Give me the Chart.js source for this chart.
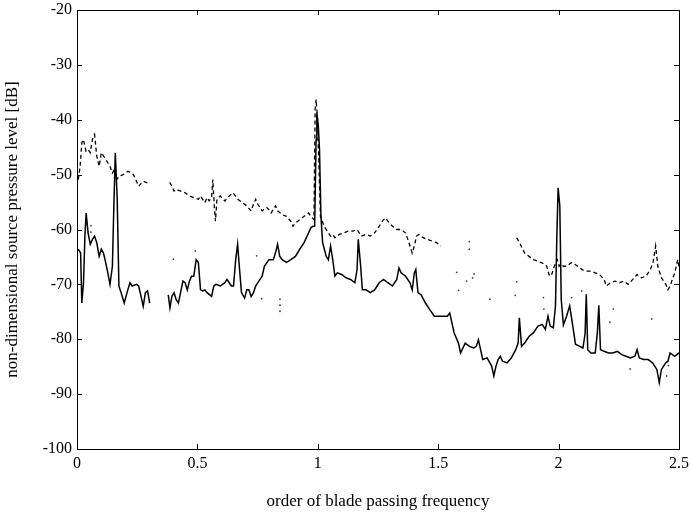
<!DOCTYPE html>
<html>
<head>
<meta charset="utf-8">
<script src="https://cdn.jsdelivr.net/npm/chart.js@4/dist/chart.umd.min.js"></script>
<style>
html,body{margin:0;padding:0;background:#fff;}
#wrap{width:690px;height:512px;position:relative;}
</style>
</head>
<body>
<div id="wrap"><canvas id="c" width="690" height="512"></canvas></div>
<script>
// ---- data (order of BPF, level in dB); null = gap in the trace ----
const solidFreq = [0.005,0.015,0.020,0.027,0.033,0.038,0.046,0.055,0.064,0.073,0.082,0.092,0.101,0.110,0.119,0.128,0.137,0.147,0.152,0.159,0.167,0.174,0.183,0.196,0.211,0.220,0.229,0.247,0.256,0.266,0.275,0.284,0.293,0.302,0.34,
0.379,0.386,0.394,0.403,0.412,0.421,0.430,0.440,0.449,0.458,0.467,0.476,0.485,0.495,0.504,0.513,0.522,0.531,0.540,0.559,0.568,0.577,0.595,0.614,0.623,0.632,0.641,0.650,0.659,0.667,0.674,0.683,0.696,0.705,0.714,0.723,0.733,0.742,0.760,0.769,0.778,0.797,0.815,0.824,0.833,0.842,0.852,0.870,0.888,0.907,0.925,0.943,0.962,0.971,0.980,0.987,0.993,0.996,1.002,1.007,1.013,1.020,1.035,1.044,1.053,1.062,1.071,1.081,1.099,1.117,1.136,1.154,1.163,1.168,1.178,1.185,1.200,1.218,1.236,1.255,1.273,1.291,1.310,1.328,1.337,1.346,1.364,1.383,1.392,1.401,1.407,1.416,1.429,1.447,1.465,1.484,1.502,1.520,1.538,1.548,1.566,1.584,1.593,1.612,1.630,1.648,1.658,1.667,1.676,1.685,1.703,1.722,1.731,1.740,1.749,1.758,1.767,1.786,1.804,1.822,1.832,1.837,1.846,1.859,1.877,1.896,1.914,1.932,1.945,1.956,1.965,1.978,1.987,1.993,1.998,2.005,2.011,2.020,2.033,2.046,2.057,2.070,2.088,2.101,2.110,2.115,2.121,2.134,2.152,2.161,2.167,2.174,2.189,2.207,2.225,2.244,2.262,2.280,2.298,2.317,2.326,2.335,2.353,2.372,2.390,2.408,2.418,2.427,2.445,2.454,2.463,2.482,2.500];
const solidLevel = [-63.6,-64.3,-73.4,-69.7,-61,-57,-60.6,-62.7,-61.8,-61.2,-62.4,-64.9,-63.6,-64.3,-66,-67.9,-70,-66.7,-57.6,-46,-54.5,-70.3,-71.5,-73.4,-71,-69.7,-70.3,-70,-70.3,-72.2,-74,-71.5,-71.2,-73.4,null,
-71.9,-74.3,-72.2,-71.5,-72.8,-73.4,-71.5,-69.4,-69.7,-71,-69.4,-68.5,-68.5,-65.5,-66,-71,-71.2,-71,-71.5,-72.2,-70.3,-70,-70.3,-69.7,-69.1,-69.7,-70.3,-70.3,-65.5,-62.7,-66.7,-71.5,-72.5,-71,-71,-72.2,-71.5,-70.3,-69.1,-68.5,-66.7,-65.5,-65.5,-64.3,-62.7,-64.9,-65.5,-66,-65.5,-64.9,-63.6,-62.4,-60.6,-59.7,-59.4,-59.4,-43.6,-38.7,-41,-45.4,-57.6,-62.4,-64.9,-65.5,-63,-65.5,-68.5,-67.9,-68.2,-68.8,-69.1,-69.7,-67.3,-61.8,-66.7,-71,-71,-71.5,-71,-69.7,-69.1,-69.7,-70.3,-69.1,-67,-67.9,-68.5,-69.7,-71,-67.9,-67.3,-71.5,-71.9,-73.4,-74.6,-75.8,-75.8,-75.8,-75.8,-75.2,-78.8,-80.7,-82.5,-80.7,-81.3,-81.6,-81.3,-80.1,-81.9,-83.7,-83.4,-84.9,-86.7,-84.9,-83.7,-83.1,-84,-84.3,-83.4,-81.9,-80.7,-76.1,-81.3,-80.7,-79.5,-78.8,-77.6,-77.3,-78.2,-75.8,-77.6,-77.9,-74,-60.6,-52.4,-55.7,-72.8,-77.4,-75.8,-73.9,-77,-80.9,-81.3,-81.6,-79,-71.8,-81.9,-82.5,-82.5,-78.8,-73.8,-81.9,-82.2,-82.5,-82.5,-82.2,-82.8,-83.1,-83.4,-83.1,-81.9,-83.4,-83.7,-83.7,-84.3,-85.5,-87.9,-85.5,-84.3,-84,-82.5,-83.1,-82.5];

const dashFreq = [0.005,0.013,0.020,0.027,0.037,0.046,0.055,0.064,0.073,0.082,0.092,0.101,0.110,0.119,0.137,0.147,0.156,0.165,0.174,0.192,0.211,0.229,0.238,0.256,0.275,0.293,0.302,0.34,
0.385,0.394,0.403,0.412,0.430,0.449,0.467,0.485,0.504,0.513,0.522,0.531,0.540,0.549,0.559,0.564,0.570,0.575,0.581,0.595,0.614,0.632,0.647,0.659,0.668,0.687,0.705,0.723,0.733,0.742,0.751,0.760,0.769,0.788,0.797,0.806,0.824,0.833,0.852,0.870,0.888,0.897,0.907,0.925,0.943,0.962,0.971,0.984,0.989,0.993,0.998,1.004,1.011,1.026,1.035,1.044,1.053,1.062,1.071,1.090,1.108,1.126,1.145,1.163,1.172,1.181,1.200,1.218,1.236,1.255,1.273,1.282,1.291,1.310,1.328,1.346,1.364,1.374,1.383,1.392,1.401,1.410,1.419,1.438,1.456,1.474,1.493,1.511,1.6,
1.826,1.841,1.859,1.877,1.896,1.914,1.932,1.951,1.960,1.969,1.978,1.987,1.995,2.002,2.009,2.020,2.033,2.051,2.060,2.079,2.097,2.115,2.134,2.152,2.170,2.189,2.198,2.216,2.234,2.253,2.271,2.289,2.308,2.326,2.344,2.363,2.381,2.392,2.403,2.412,2.427,2.445,2.454,2.463,2.482,2.495,2.500];
const dashLevel = [-50.9,-48.5,-44.2,-43.6,-45.7,-45.4,-46,-43.6,-42.7,-46.6,-48.5,-46,-46.6,-47.2,-48.5,-49.7,-49,-50.9,-50.3,-50,-49.4,-49.7,-50.3,-52.1,-51.2,-51.5,-51.8,null,
-51.4,-52.1,-53,-52.7,-53,-53.3,-53.9,-54.2,-54.5,-53.9,-54.5,-55.1,-54.2,-54.8,-54.2,-50.9,-55.7,-58.5,-54.5,-53.9,-54.8,-53.9,-53.3,-53.9,-54.5,-55.1,-55.7,-56.6,-55.4,-54.5,-55.4,-56,-56.6,-56,-56.4,-57,-55.7,-56.6,-57.3,-57.6,-58.5,-59.4,-58.8,-58.2,-57.6,-57,-57.6,-58.2,-38.1,-36.3,-39.3,-47.2,-57.6,-59.4,-60,-60.6,-61.2,-60.9,-61.5,-60.9,-60.6,-60.3,-60.3,-60,-60.6,-61.2,-60.9,-61.2,-60.6,-59.4,-58.2,-57.9,-58.5,-59.4,-60,-60,-60.6,-61.8,-63,-64.3,-63,-61.2,-60.9,-61.5,-61.8,-62.1,-62.4,-63,null,
-61.5,-62.7,-64.3,-64.9,-65.5,-65.8,-66.1,-66.7,-68.2,-68.5,-67.3,-66.1,-65.5,-66.7,-66.3,-66.7,-66.7,-66.1,-66.1,-66.7,-67.3,-67.6,-67.6,-67.9,-68.2,-69.1,-70.3,-69.7,-69.4,-69.7,-69.4,-70,-69.1,-68.2,-68.8,-68.5,-67.3,-66.1,-63,-66.7,-68.8,-70,-71,-70.3,-67.9,-65.5,-66.7];

const dotFreq = [0.058,0.058,0.400,0.491,0.746,0.767,0.843,0.843,0.843,1.577,1.585,1.618,1.629,1.629,1.643,1.649,1.715,1.820,1.826,1.937,1.939,2.054,2.096,2.213,2.227,2.297,2.387,2.449,2.456];
const dotLevel = [-59.3,-60.5,-65.4,-63.9,-64.8,-72.6,-72.7,-73.8,-74.9,-67.8,-71.1,-69.4,-62.2,-63.6,-68.8,-68.1,-72.7,-72,-69.5,-72.4,-74.5,-72.4,-71.2,-76.9,-74.5,-85.4,-76.3,-86.7,-84.8];

const xTicks = [0,0.5,1,1.5,2,2.5];
const yTicks = [-100,-90,-80,-70,-60,-50,-40,-30,-20];

function pts(xs, ys){ return xs.map((x,i)=>({x:x, y:ys[i]})); }

const frameTicks = {
  id:'frameTicks',
  afterDraw(chart){
    const {ctx, chartArea:a, scales} = chart;
    ctx.save();
    ctx.strokeStyle = '#000';
    ctx.lineWidth = 1;
    ctx.strokeRect(Math.round(a.left)+0.5, Math.round(a.top)+0.5, Math.round(a.right-a.left), Math.round(a.bottom-a.top));
    const L = 5;
    ctx.beginPath();
    xTicks.forEach(v=>{
      const px = Math.round(scales.x.getPixelForValue(v))+0.5;
      ctx.moveTo(px, a.bottom); ctx.lineTo(px, a.bottom-L);
      ctx.moveTo(px, a.top); ctx.lineTo(px, a.top+L);
    });
    yTicks.forEach(v=>{
      const py = Math.round(scales.y.getPixelForValue(v))+0.5;
      ctx.moveTo(a.left, py); ctx.lineTo(a.left+L, py);
      ctx.moveTo(a.right, py); ctx.lineTo(a.right-L, py);
    });
    ctx.stroke();
    ctx.restore();
  }
};

const font = 'Liberation Serif, Times New Roman, serif';

new Chart(document.getElementById('c'), {
  type:'line',
  data:{
    datasets:[
      {label:'solid', data:pts(solidFreq, solidLevel), borderColor:'#000', borderWidth:1.5, pointRadius:0, spanGaps:false, tension:0},
      {label:'dashed', data:pts(dashFreq, dashLevel), borderColor:'#000', borderWidth:1.3, borderDash:[4,3], pointRadius:0, spanGaps:false, tension:0},
      {label:'dotted', data:pts(dotFreq, dotLevel), showLine:false, pointRadius:0.9, pointBorderWidth:0, pointBackgroundColor:'#444', borderColor:'#444'}
    ]
  },
  options:{
    responsive:false,
    animation:false,
    events:[],
    layout:{padding:{top:10, right:11, left:0, bottom:0}},
    plugins:{legend:{display:false}, tooltip:{enabled:false}},
    scales:{
      x:{
        type:'linear', min:0, max:2.5,
        afterBuildTicks(s){ s.ticks = xTicks.map(v=>({value:v})); },
        afterFit(s){ s.height = 63; s.paddingLeft = 0; s.paddingRight = 0; },
        grid:{display:false, drawTicks:false},
        border:{display:false},
        ticks:{color:'#000', font:{family:font, size:16}, padding:5, maxRotation:0,
               callback:(v)=>String(v)},
        title:{display:true, text:'order of blade passing frequency', color:'#000', font:{family:font, size:17}, padding:{top:14, bottom:0}}
      },
      y:{
        type:'linear', min:-100, max:-20,
        afterBuildTicks(s){ s.ticks = yTicks.map(v=>({value:v})); },
        afterFit(s){ s.width = 77; s.paddingTop = 0; s.paddingBottom = 0; },
        grid:{display:false, drawTicks:false},
        border:{display:false},
        ticks:{color:'#000', font:{family:font, size:16}, padding:5},
        title:{display:true, text:'non-dimensional source pressure level [dB]', color:'#000', font:{family:font, size:17}, padding:{top:2, bottom:0}}
      }
    }
  },
  plugins:[frameTicks]
});
</script>
</body>
</html>
